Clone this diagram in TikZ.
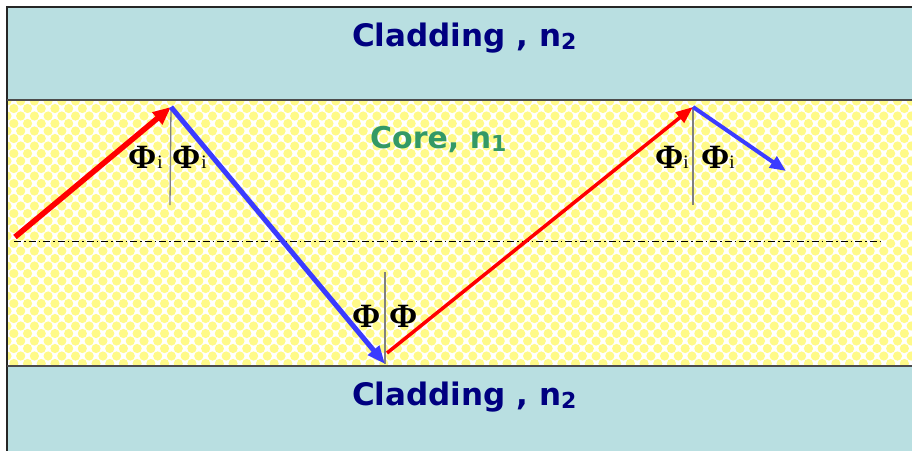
\documentclass[tikz,border=0pt]{standalone}
\usepackage{fontspec}
\setmainfont{DejaVu Sans}
\newfontfamily\phifont{Liberation Serif}
\usetikzlibrary{arrows.meta}
\definecolor{cladfill}{HTML}{B9DFE1}
\definecolor{dotyel}{HTML}{FFFA88}
\definecolor{cladtext}{HTML}{000080}
\definecolor{coretext}{HTML}{339966}
\definecolor{rayblue}{HTML}{3B3BFF}
\tikzset{
  cladlabel/.style={font=\fontsize{31}{31}\selectfont\bfseries, text=cladtext, inner sep=0pt, anchor=base west},
  corelabel/.style={font=\fontsize{30}{30}\selectfont\bfseries, text=coretext, inner sep=0pt, anchor=base west},
  philabel/.style={font=\fontsize{34}{34}\selectfont\phifont\bfseries, inner sep=0pt, anchor=base west},
  normal/.style={draw=gray, line width=1.3pt},
  boundary/.style={draw=black!70, line width=1.8pt},
}
\newcommand{\subn}[1]{\raisebox{-0.22ex}{\fontsize{22}{22}\selectfont #1}}
\newcommand{\subi}{{\fontsize{19}{19}\selectfont\mdseries i}}
\begin{document}
\begin{tikzpicture}[x=1pt,y=-1pt]
\useasboundingbox (0,0) rectangle (912,451);
\fill[white] (0,0) rectangle (912,451);
\fill[cladfill] (7,7) rectangle (912,451);
\fill[white] (7,100) rectangle (912,366);
\begin{scope}
  \clip (7,100) rectangle (912,366);
  \foreach \j in {0,...,36} {
    \pgfmathsetmacro{\off}{6.85*mod(\j,2)}
    \pgfmathsetmacro{\yy}{101+7.5*\j}
    \foreach \i in {0,...,67} {
      \fill[dotyel] ({7+13.7*\i+\off},\yy) circle (4.6);
    }
  }
\end{scope}
\draw[line width=2pt, black!85] (6,7) -- (912,7);
\draw[line width=2pt, black!85] (7,6) -- (7,451);
\draw[boundary] (7,100) -- (912,100);
\draw[boundary] (7,366) -- (912,366);

% labels
\node[cladlabel] (cladtop) at (352,46) {Cladding , n\subn{2}};
\node[cladlabel] (cladbot) at (352,405) {Cladding , n\subn{2}};
\node[corelabel] (core) at (370,148) {Core, n\subn{1}};

% geometry
\coordinate (s) at (15,237);
\coordinate (v1) at (171,107);
\coordinate (v2) at (385,364);
\coordinate (v2r) at (387,353);
\coordinate (v3) at (693,107);
\coordinate (e) at (786,171);
\coordinate (n1) at (170,205);
\coordinate (n2) at (385,272);
\coordinate (n3) at (693,205);
\coordinate (a1) at (14,241);
\coordinate (a2) at (880,241);

\draw[black, line width=1pt, dash pattern=on 7pt off 3pt on 1.5pt off 3pt] (a1) -- (a2);

\draw[normal] (v1) -- (n1);
\draw[normal] (n2) -- (v2);
\draw[normal] (v3) -- (n3);

\draw[red, line width=5.5pt, -{Triangle[length=18pt,width=15pt]}] (s) -- (v1);
\draw[rayblue, line width=5pt, -{Triangle[length=18pt,width=14pt]}] (v1) -- (v2);
\draw[red, line width=3.5pt, -{Triangle[length=17pt,width=13pt]}] (v2r) -- (v3);
\draw[rayblue, line width=4pt, -{Triangle[length=16pt,width=13pt]}] (v3) -- (e);

\node[philabel] (p1a) at (128,168) {Φ\kern1pt\subi};
\node[philabel] (p1b) at (172,168) {Φ\kern1pt\subi};
\node[philabel] (p2a) at (352,327) {Φ};
\node[philabel] (p2b) at (389,327) {Φ};
\node[philabel] (p3a) at (655,168) {Φ\kern0pt\subi};
\node[philabel] (p3b) at (701,168) {Φ\kern0pt\subi};
\end{tikzpicture}
\end{document}
